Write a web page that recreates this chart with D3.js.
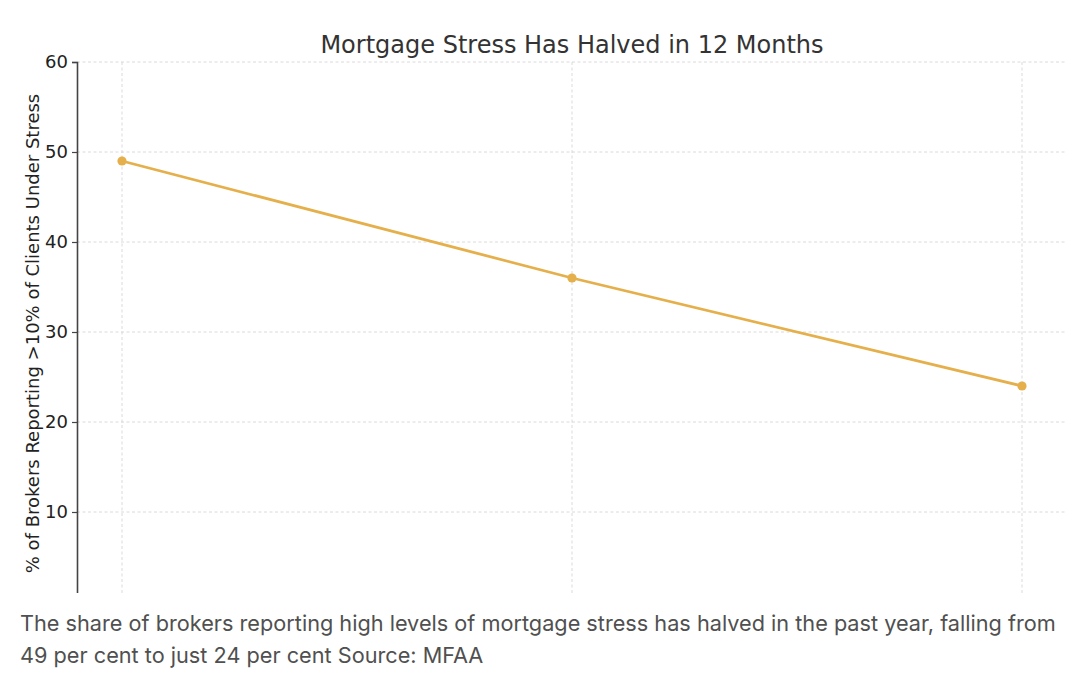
<!DOCTYPE html>
<html><head><meta charset="utf-8">
<script src="https://cdn.jsdelivr.net/npm/d3@7"></script>
<style>
html,body{margin:0;padding:0;background:#fff;}
svg{display:block;}
</style></head>
<body>
<script>
const categories = ["Period 1", "Period 2", "Period 3"];
const values = [49, 36, 24];
const yTicks = [10, 20, 30, 40, 50, 60];
const title = "Mortgage Stress Has Halved in 12 Months";
const yLabel = "% of Brokers Reporting >10% of Clients Under Stress";
const captionLines = ["The share of brokers reporting high levels of mortgage stress has halved in the past year, falling from",
                      "49 per cent to just 24 per cent Source: MFAA"];

const W = 1080, H = 680;
const svg = d3.select("body").append("svg").attr("width", W).attr("height", H);

const plot = {left: 77, right: 1067, top: 62, bottom: 602};
const x = d3.scaleLinear().domain([-0.1, categories.length - 1 + 0.1]).range([plot.left, plot.right]);
const y = d3.scaleLinear().domain([0, 60]).range([plot.bottom, plot.top]);

svg.append("clipPath").attr("id", "chartclip").append("rect")
  .attr("x", 0).attr("y", 0).attr("width", W).attr("height", 593);

const g = svg.append("g").attr("clip-path", "url(#chartclip)");

// grid
g.append("g").selectAll("line").data(yTicks).join("line")
  .attr("x1", plot.left).attr("x2", plot.right)
  .attr("y1", d => y(d)).attr("y2", d => y(d))
  .attr("stroke", "#d0d0d0").attr("stroke-width", 0.8).attr("stroke-dasharray", "3,2.5");
g.append("g").selectAll("line").data(categories).join("line")
  .attr("x1", (d, i) => x(i)).attr("x2", (d, i) => x(i))
  .attr("y1", plot.top).attr("y2", plot.bottom)
  .attr("stroke", "#d0d0d0").attr("stroke-width", 0.8).attr("stroke-dasharray", "3,2.5");

// y axis
const yAxis = d3.axisLeft(y).tickValues(yTicks).tickSize(5).tickPadding(4);
const ya = g.append("g").attr("transform", `translate(${plot.left},0)`).call(yAxis);
ya.select(".domain").attr("stroke", "#444").attr("stroke-width", 1.6);
ya.selectAll(".tick line").attr("stroke", "#444").attr("stroke-width", 1.2);
ya.selectAll(".tick text").attr("font-family", "DejaVu Sans").attr("font-size", 18).attr("fill", "#222");

// line
const line = d3.line().x((d, i) => x(i)).y(d => y(d));
g.append("path").datum(values).attr("d", line)
  .attr("fill", "none").attr("stroke", "#E5B04B").attr("stroke-width", 2.8);
g.append("g").selectAll("circle").data(values).join("circle")
  .attr("cx", (d, i) => x(i)).attr("cy", d => y(d)).attr("r", 4.6).attr("fill", "#E5B04B");

// title
svg.append("text").attr("x", (plot.left + plot.right) / 2).attr("y", 53)
  .attr("text-anchor", "middle").attr("font-family", "DejaVu Sans").attr("font-size", 24)
  .attr("fill", "#333").text(title);

// y label
svg.append("text").attr("transform", `translate(39,${(plot.top + 593) / 2 + 6}) rotate(-90)`)
  .attr("text-anchor", "middle").attr("font-family", "DejaVu Sans").attr("font-size", 18)
  .attr("fill", "#222").text(yLabel);

// caption
svg.append("g").selectAll("text").data(captionLines).join("text")
  .attr("x", 20).attr("y", (d, i) => 631 + i * 32)
  .attr("font-family", "Inter").attr("font-size", 21.7).attr("fill", "#505050")
  .text(d => d);
</script>
</body></html>
